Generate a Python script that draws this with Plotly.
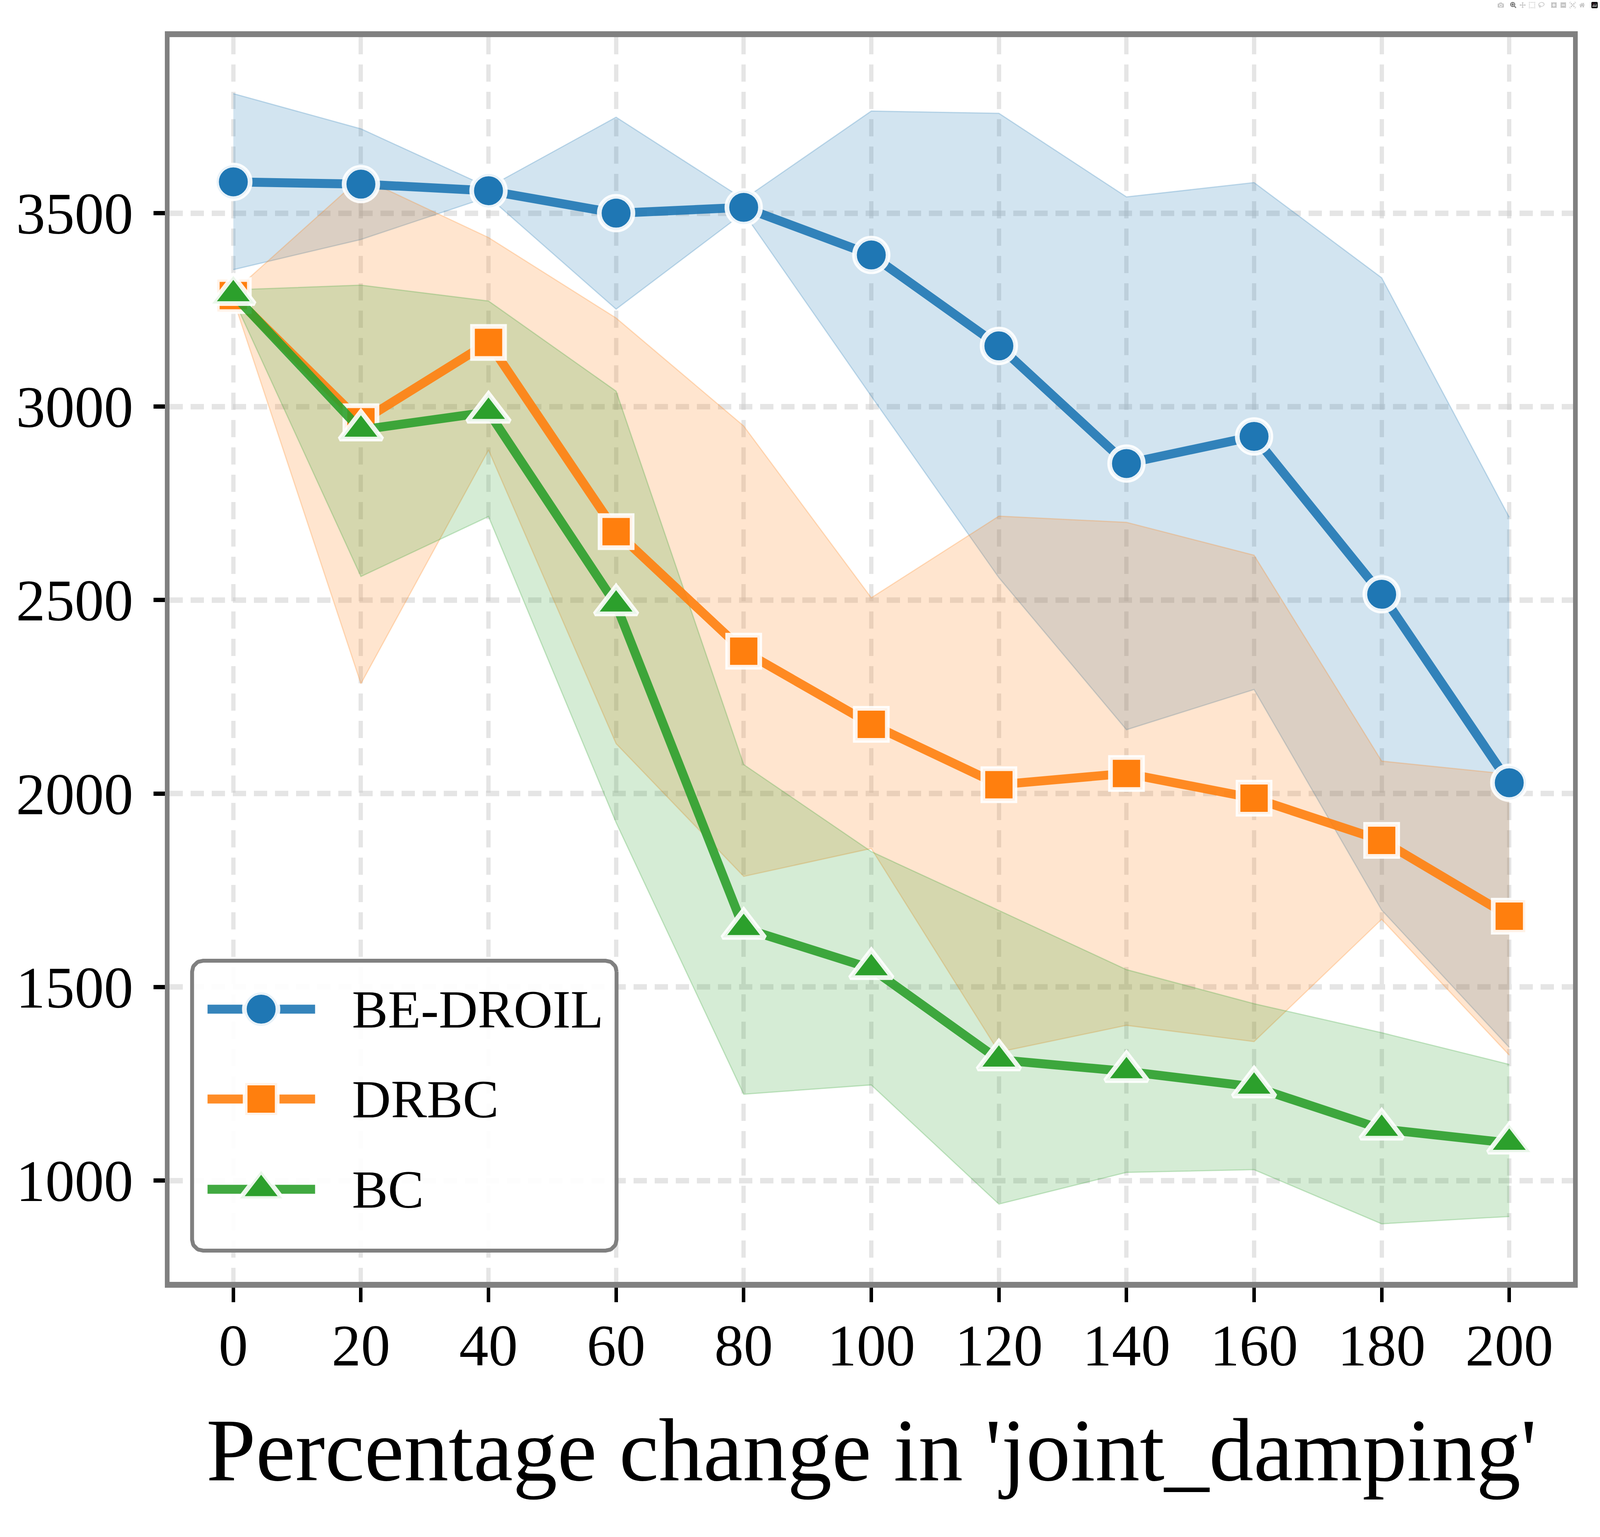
import numpy as np
import plotly.graph_objects as go

# ---------------- data ----------------
x_pct = [0, 20, 40, 60, 80, 100, 120, 140, 160, 180, 200]

be_mean = [3581, 3575, 3558, 3500, 3515, 3392, 3157, 2853, 2923, 2515, 2028]
be_upper = [3809, 3718, 3567, 3748, 3536, 3764, 3758, 3542, 3579, 3333, 2714]
be_lower = [3354, 3432, 3542, 3252, 3501, 3027, 2558, 2165, 2269, 1699, 1344]

drbc_mean = [3287, 2961, 3166, 2677, 2368, 2179, 2023, 2052, 1988, 1879, 1683]
drbc_upper = [3296, 3592, 3437, 3229, 2950, 2506, 2717, 2701, 2616, 2084, 2050]
drbc_lower = [3277, 2284, 2888, 2129, 1786, 1858, 1332, 1401, 1359, 1675, 1324]

bc_mean = [3290, 2940, 2986, 2488, 1652, 1548, 1312, 1282, 1242, 1133, 1097]
bc_upper = [3302, 3314, 3273, 3040, 2075, 1850, 1698, 1545, 1457, 1382, 1300]
bc_lower = [3280, 2561, 2716, 1925, 1223, 1247, 939, 1021, 1028, 888, 907]

series_names = ["BE-DROIL", "DRBC", "BC"]
x_ticks = [0, 20, 40, 60, 80, 100, 120, 140, 160, 180, 200]
y_ticks = [1000, 1500, 2000, 2500, 3000, 3500]

# ---------------- geometry ----------------
# The browser viewport is 4096 px wide (x 3934 tall); the layout is the
# reference layout (5281 x 3934) compressed horizontally to fill it.
REF_W, REF_H = 5281, 3934
W, H = 4096, 3934
SX = W / REF_W

ML = round(560 * SX)
MR = W - round(5192 * SX)
MT, MB = 95, REF_H - 3281
PW, PH = W - ML - MR, H - MT - MB

FONT = "Liberation Serif"
rgb = {"BE-DROIL": (31, 119, 180), "DRBC": (255, 127, 14), "BC": (44, 160, 44)}
symbols = {"BE-DROIL": "circle", "DRBC": "square", "BC": "triangle-up"}
msize = {"BE-DROIL": 86, "DRBC": 82, "BC": 94}
MLW = 12
LW = 23


def rgba(c, a):
    return f"rgba({c[0]},{c[1]},{c[2]},{a})"


means = {"BE-DROIL": be_mean, "DRBC": drbc_mean, "BC": bc_mean}
uppers = {"BE-DROIL": be_upper, "DRBC": drbc_upper, "BC": bc_upper}
lowers = {"BE-DROIL": be_lower, "DRBC": drbc_lower, "BC": bc_lower}

fig = go.Figure()

# confidence bands
for name in series_names:
    c = rgb[name]
    fig.add_trace(go.Scatter(x=x_pct, y=uppers[name], mode="lines",
                             line=dict(color=rgba(c, 0.25), width=3),
                             showlegend=False, hoverinfo="skip"))
    fig.add_trace(go.Scatter(x=x_pct, y=lowers[name], mode="lines",
                             line=dict(color=rgba(c, 0.25), width=3),
                             fill="tonexty", fillcolor=rgba(c, 0.2),
                             showlegend=False, hoverinfo="skip"))

# mean lines
for name in series_names:
    c = rgb[name]
    fig.add_trace(go.Scatter(
        x=x_pct, y=means[name], mode="lines+markers", name=name,
        line=dict(color=rgba(c, 0.9), width=LW),
        marker=dict(symbol=symbols[name], size=msize[name], color=rgba(c, 1),
                    line=dict(color="rgba(255,255,255,0.9)", width=MLW)),
        showlegend=False, cliponaxis=False))


# ---------------- legend drawn on an overlay axis (0..1 over plot area) ----------------
def px_x(v_ref):
    return (v_ref * SX - ML) / PW


def px_y(v_ref):
    return (MT + PH - v_ref) / PH


bx0, bx1, by0, by1 = px_x(634), px_x(2035), px_y(3201), px_y(2459)
rad = 28
rx, ry = rad / PW, rad / PH
pts_x, pts_y = [], []
corners = [(bx1 - rx, by1 - ry, 0, 90), (bx0 + rx, by1 - ry, 90, 180),
           (bx0 + rx, by0 + ry, 180, 270), (bx1 - rx, by0 + ry, 270, 360)]
for cx, cy, a0, a1 in corners:
    t = np.radians(np.linspace(a0, a1, 12))
    pts_x += list(cx + rx * np.cos(t))
    pts_y += list(cy + ry * np.sin(t))
pts_x.append(pts_x[0])
pts_y.append(pts_y[0])
fig.add_trace(go.Scatter(x=pts_x, y=pts_y, xaxis="x2", yaxis="y2", mode="lines",
                         fill="toself", fillcolor="rgba(255,255,255,0.9)",
                         line=dict(color="#808080", width=10),
                         showlegend=False, hoverinfo="skip"))

row_y = [px_y(2583), px_y(2813), px_y(3044)]
hx0, hx1, hxm = px_x(685), px_x(1040), px_x(862)
for name, ry_ in zip(series_names, row_y):
    c = rgb[name]
    fig.add_trace(go.Scatter(x=[hx0, hx1], y=[ry_, ry_], xaxis="x2", yaxis="y2",
                             mode="lines", line=dict(color=rgba(c, 0.9), width=LW),
                             showlegend=False, hoverinfo="skip"))
    fig.add_trace(go.Scatter(x=[hxm], y=[ry_], xaxis="x2", yaxis="y2", mode="markers",
                             marker=dict(symbol=symbols[name], size=msize[name], color=rgba(c, 1),
                                         line=dict(color="rgba(255,255,255,0.9)", width=MLW)),
                             showlegend=False, hoverinfo="skip"))
    fig.add_annotation(x=px_x(1159), y=ry_, xref="x2", yref="y2", text=name,
                       showarrow=False, xanchor="left", yanchor="middle",
                       font=dict(family=FONT, size=138, color="black"))

# x-axis label
fig.add_annotation(x=0.5, y=px_y(3712), xref="paper", yref="paper",
                   text="Percentage change in 'joint_damping'", showarrow=False,
                   xanchor="center", yanchor="middle",
                   font=dict(family=FONT, size=228, color="black"))

common = dict(showgrid=True, gridcolor="rgba(204,204,204,0.5)", zeroline=False,
              showline=True, mirror=True, linecolor="#808080", ticks="outside",
              tickcolor="black", tickfont=dict(family=FONT, size=150, color="black"))

fig.update_layout(
    width=W, height=H, autosize=False,
    margin=dict(l=ML, r=MR, t=MT, b=MB),
    paper_bgcolor="white", plot_bgcolor="white",
    font=dict(family=FONT),
    xaxis=dict(range=[-10, 210], tickvals=x_ticks, ticklabelstandoff=-18,
               gridwidth=11, griddash="44px,26px", linewidth=15,
               ticklen=37, tickwidth=9, **common),
    yaxis=dict(range=[738, 3955], tickvals=y_ticks, ticklabelstandoff=22,
               gridwidth=14, griddash="34px,20px", linewidth=12,
               ticklen=29, tickwidth=11, **common),
    xaxis2=dict(overlaying="x", range=[0, 1], visible=False, fixedrange=True),
    yaxis2=dict(overlaying="y", range=[0, 1], visible=False, fixedrange=True),
    showlegend=False,
)

fit_js = """
var gd = document.getElementById('{plot_id}');
document.documentElement.style.overflow = 'hidden';
document.body.style.margin = '0';
document.body.style.overflow = 'hidden';
var sx = window.innerWidth / %d, sy = window.innerHeight / %d;
if (Math.abs(sx - 1) > 0.01 || Math.abs(sy - 1) > 0.01) {
  gd.style.transformOrigin = '0 0';
  gd.style.transform = 'scale(' + sx + ',' + sy + ')';
}
""" % (W, H)

fig.write_html("out.html", post_script=fit_js)
